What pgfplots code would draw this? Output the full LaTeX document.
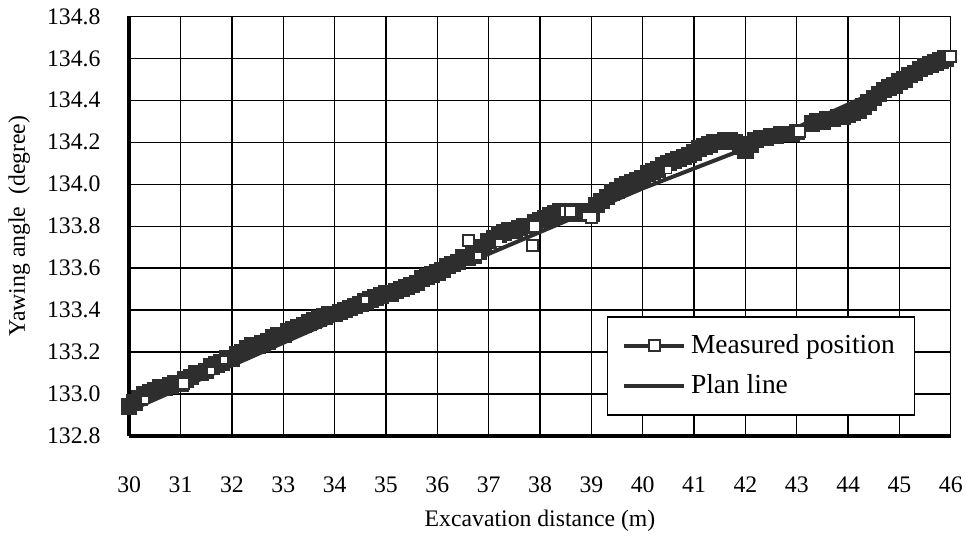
\documentclass[border=0pt]{standalone}
\usepackage{pgfplots}
\pgfplotsset{compat=1.18}
\usepackage{fontspec}
\setmainfont{Liberation Serif}
\definecolor{ink}{HTML}{2E2E2E}
\begin{document}
\begin{tikzpicture}
\begin{axis}[
  scale only axis,
  width=329pt, height=168pt,
  xmin=30, xmax=46, ymin=132.8, ymax=134.8,
  xtick={30,31,...,46},
  ytick={132.8,133.0,...,134.8},
  yticklabel style={xshift=-8pt, /pgf/number format/.cd,fixed,fixed zerofill,precision=1},
  /pgf/number format/assume math mode=true,
  tick label style={font=\fontsize{9.5}{11}\selectfont},
  xticklabel style={yshift=-13pt},
  major tick length=0pt,
  grid=major,
  grid style={black, line width=0.5pt},
  axis line style={black},
  axis x line*=bottom, axis y line*=left,
  every outer x axis line/.append style={line width=1.6pt},
  every outer y axis line/.append style={line width=1.6pt},
  separate axis lines,
  xlabel={Excavation distance (m)},
  ylabel={Yawing angle\ \ (degree)},
  label style={font=\fontsize{9.5}{11}\selectfont},
  xlabel style={yshift=0pt},
  legend style={at={(0.957,0.048)}, anchor=south east, draw=black, line width=0.6pt, fill=white,
    font=\fontsize{11}{13}\selectfont, row sep=3pt, inner xsep=6pt, inner ysep=5pt},
  legend cell align=left,
  legend image code/.code={
    \draw[mark repeat=2,mark phase=2,#1] plot coordinates {(0cm,0cm) (0.42cm,0cm) (0.84cm,0cm)};
  },
  clip=true,
]
% plan line
\addplot[ink, line width=1.6pt, forget plot] coordinates {
(30,132.92) (35,133.46) (40,133.98) (42,134.17) (43,134.27) (46,134.60)
};
% measured position (segment 1)
\addplot[ink, line width=4pt, mark=square*, mark size=3pt, mark options={fill=ink, line width=0.6pt}, forget plot] coordinates {
(30.0,132.94) (30.1,132.96) (30.2,132.98) (30.3,133.00) (30.4,133.01) (30.5,133.02) (30.6,133.03) (30.7,133.03) (30.8,133.04) (30.9,133.05)
(31.0,133.05) (31.1,133.07) (31.2,133.08) (31.3,133.10) (31.4,133.10) (31.5,133.11) (31.6,133.13) (31.7,133.14) (31.8,133.15) (31.9,133.17)
(32.0,133.17) (32.1,133.19) (32.2,133.20) (32.3,133.22) (32.4,133.23) (32.5,133.23) (32.6,133.24) (32.7,133.25) (32.8,133.27) (32.9,133.28)
(33.0,133.28) (33.1,133.30) (33.2,133.31) (33.3,133.32) (33.4,133.33) (33.5,133.34) (33.6,133.35) (33.7,133.36) (33.8,133.37) (33.9,133.38)
(34.0,133.38) (34.1,133.39) (34.2,133.40) (34.3,133.41) (34.4,133.42) (34.5,133.43) (34.6,133.44) (34.7,133.45) (34.8,133.46) (34.9,133.47)
(35.0,133.48) (35.1,133.48) (35.2,133.49) (35.3,133.50) (35.4,133.51) (35.5,133.52) (35.6,133.53) (35.7,133.55) (35.8,133.56) (35.9,133.57)
(36.0,133.58) (36.1,133.59) (36.2,133.61) (36.3,133.62) (36.4,133.63) (36.5,133.65) (36.6,133.65) (36.7,133.66) (36.8,133.68) (36.9,133.70)
(37.0,133.73) (37.1,133.74) (37.2,133.76) (37.3,133.77) (37.4,133.78) (37.5,133.78) (37.6,133.79) (37.7,133.80) (37.8,133.80) (37.9,133.82)
(38.0,133.83) (38.1,133.84) (38.2,133.85) (38.3,133.86) (38.4,133.87) (38.5,133.87) (38.6,133.87) (38.7,133.86) (38.8,133.86) (38.9,133.87)
(39.0,133.86) (39.1,133.90) (39.2,133.92) (39.3,133.94) (39.4,133.96) (39.5,133.97) (39.6,133.99) (39.7,134.00) (39.8,134.01) (39.9,134.02)
(40.0,134.03) (40.1,134.05) (40.2,134.06) (40.3,134.07) (40.4,134.09) (40.5,134.10) (40.6,134.11) (40.7,134.12) (40.8,134.13) (40.9,134.14)
(41.0,134.15) (41.1,134.17) (41.2,134.18) (41.3,134.19) (41.4,134.20) (41.5,134.20) (41.6,134.21) (41.7,134.21) (41.8,134.20) (41.9,134.18)
(42.0,134.16) (42.1,134.19) (42.2,134.21) (42.3,134.22) (42.4,134.22) (42.5,134.23) (42.6,134.23) (42.7,134.24) (42.8,134.24) (42.9,134.24)
(43.0,134.25)
};
% measured position (segment 2)
\addplot[ink, line width=4pt, mark=square*, mark size=3pt, mark options={fill=ink, line width=0.6pt}, forget plot] coordinates {
(43.3,134.29) (43.4,134.30) (43.5,134.30) (43.6,134.31) (43.7,134.31) (43.8,134.32) (43.9,134.32)
(44.0,134.33) (44.1,134.34) (44.2,134.35) (44.3,134.37) (44.4,134.39) (44.5,134.41) (44.6,134.43) (44.7,134.45) (44.8,134.46) (44.9,134.47)
(45.0,134.49) (45.1,134.50) (45.2,134.52) (45.3,134.53) (45.4,134.55) (45.5,134.56) (45.6,134.57) (45.7,134.58) (45.8,134.59) (45.9,134.60)
};
% visible open squares of measured position
\addplot[only marks, ink, mark=square*, mark size=2.2pt, mark options={fill=white, line width=0.8pt}, forget plot] coordinates {
(31.05,133.05) (36.6,133.73) (37.85,133.71) (37.9,133.80)
(38.5,133.87) (38.6,133.87) (39.0,133.84) (43.05,134.25) (46.0,134.61)
};
% small white gaps inside the band
\addplot[only marks, white, mark=square*, mark size=1pt, mark options={fill=white}, forget plot] coordinates {
(30.3,132.97) (31.6,133.11) (31.85,133.16) (34.6,133.45) (36.8,133.66) (37.2,133.72) (38.9,133.85) (40.5,134.07)
};
% legend entries
\addlegendimage{ink, line width=1.6pt, mark=square*, mark size=2.2pt, mark options={fill=white, line width=0.8pt}}
\addlegendentry{Measured position}
\addlegendimage{ink, line width=1.6pt}
\addlegendentry{Plan line}
\end{axis}
\end{tikzpicture}
\end{document}
